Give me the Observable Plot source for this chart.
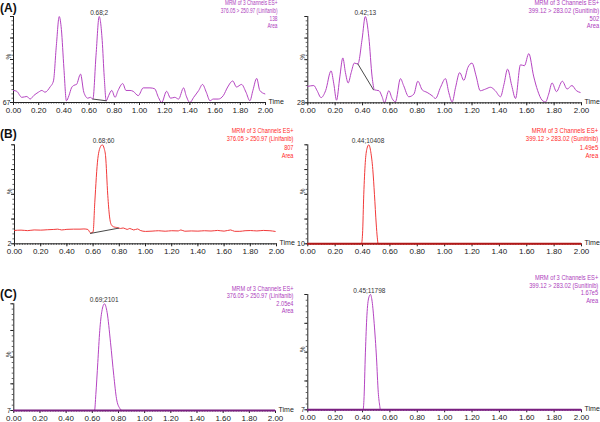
<!DOCTYPE html>
<html><head><meta charset="utf-8">
<script src="https://cdn.jsdelivr.net/npm/d3@7"></script>
<script src="https://cdn.jsdelivr.net/npm/@observablehq/plot@0.6"></script>
<style>
body{margin:0;background:#fff;}
#root{position:relative;width:600px;height:422px;overflow:hidden;font-family:"Liberation Sans",Arial,sans-serif;background:#fff;}
.panel{position:absolute;}
.panel svg{overflow:visible;max-width:none;}
.ann{position:absolute;font-size:7px;text-align:right;white-space:nowrap;transform-origin:right top;}
.tag{position:absolute;font-weight:bold;font-size:12px;line-height:12px;color:#111;}
</style></head><body><div id="root"></div>
<script>
// ---------- data ----------
const majorX = [0, 0.2, 0.4, 0.6, 0.8, 1.0, 1.2, 1.4, 1.6, 1.8, 2.0];
const minorX = d3.range(0, 2.0001, 0.02);
const majorY = [0, 25, 50, 75, 100];
const minorY = d3.range(0, 100.01, 5);

// (A) Linifanib – blank noise
const aLeftTime = [0,0.026,0.066,0.106,0.132,0.16,0.198,0.225,0.25,0.29,0.317,0.34,0.363,0.38,0.40,0.42,0.44,0.46,0.48,0.50,0.532,0.558,0.59,0.61,0.63,0.655,0.68,0.704,0.72,0.736,0.755,0.78,0.806,0.83,0.867,0.893,0.925,0.95,0.99,1.03,1.083,1.12,1.15,1.176,1.215,1.247,1.28,1.31,1.35,1.37,1.40,1.43,1.47,1.50,1.53,1.56,1.585,1.625,1.665,1.70,1.74,1.77,1.81,1.845,1.876,1.90,1.93,1.955,1.995];
const aLeftPct  = [14,13,6,7,4,8,12,14,12,18,25,66,100,85,40,2,8,17,20,21,33,12,5,6,4,55,100,72,30,2,8,14,6,14,22,14,14,13,8,17,17,16,6,0,13,5,6,4,17,8,0,6,14,21,12,2,4,4,8,18,25,18,21,12,2,14,28,14,10];
const aLeftIntT = [0.63, 0.736];
const aLeftIntV = [4, 2];

// (A) Sunitinib – blank noise
const aRightTime = [0,0.044,0.068,0.097,0.13,0.17,0.19,0.21,0.234,0.256,0.275,0.295,0.317,0.34,0.366,0.397,0.42,0.446,0.47,0.487,0.52,0.543,0.56,0.592,0.616,0.64,0.677,0.70,0.738,0.775,0.804,0.836,0.872,0.91,0.933,0.97,1.006,1.03,1.055,1.08,1.11,1.14,1.17,1.2,1.23,1.26,1.30,1.335,1.37,1.408,1.433,1.46,1.49,1.518,1.554,1.583,1.615,1.65,1.68,1.712,1.737,1.76,1.785,1.817,1.86,1.895,1.93,1.963,1.99];
const aRightPct  = [19,20,14,6,14,37,22,3,30,52,35,23,35,46,45,74,100,76,30,15,14,7,0,14,5,1,28,20,7,10,25,15,12,8,5,18,28,12,1,18,35,26,41,46,31,14,16,18,14,7,21,39,20,5,44,43,57,31,14,3,1,10,23,13,25,16,20,14,12];
const aRightIntT = [0.366, 0.48];
const aRightIntV = [45, 15];

// (B) Linifanib
const bLeftTime = [0,0.05,0.1,0.15,0.2,0.25,0.3,0.33,0.36,0.4,0.45,0.5,0.53,0.56,0.58,0.60,0.613,0.636,0.66,0.67,0.685,0.695,0.712,0.725,0.74,0.76,0.78,0.81,0.83,0.86,0.88,0.91,0.94,0.96,1.0,1.05,1.1,1.15,1.2,1.25,1.27,1.3,1.35,1.4,1.45,1.5,1.55,1.6,1.65,1.68,1.72,1.76,1.8,1.85,1.9,1.95,1.99];
const bLeftPct  = [13.5,13.8,13.3,14,13.8,14.2,14.5,14.8,14,14.6,14.8,14.8,15,14.5,11,12,42,86,99,100,96,89,49,28,19,17,16.5,15.5,16,14.5,15.5,14,15,13.5,12.5,12.8,13.2,12.7,13.2,13,14,12.7,13,12.8,13.2,12.9,13.5,12.8,14,12.6,12.6,13.2,13.4,13,13.5,13.2,12.5];
const bLeftIntT = [0.58, 0.795];
const bLeftIntV = [10.5, 15.8];

// (B) Sunitinib
const bRightTime = [0,0.392,0.40,0.409,0.42,0.432,0.446,0.46,0.475,0.487,0.50,0.508,0.514,2.0];
const bRightPct  = [0,0,10,50,82,96,100,93,75,50,20,6,0,0];

// (C) Linifanib
const cLeftTime = [0,0.617,0.627,0.642,0.657,0.673,0.693,0.713,0.739,0.764,0.785,0.81,0.828,2.0];
const cLeftPct  = [0,0,15,45,75,93,100,92,64,33,11,2,0,0];

// (C) Sunitinib
const cRightTime = [0,0.404,0.41,0.421,0.432,0.445,0.458,0.47,0.485,0.502,0.515,0.525,0.531,2.0];
const cRightPct  = [0,0,8,50,82,97,100,94,75,45,15,4,0,0];

const peakTimes  = [0.68, 0.42, 0.68, 0.44, 0.69, 0.45];
const peakLabels = ["0.68;2", "0.42;13", "0.68;60", "0.44;10408", "0.69;2101", "0.45;11798"];
const bottomLabels = ["67", "28", "2", "10", "7", "7"];
const intensities = ["138", "502", "807", "1.49e5", "2.05e4", "1.67e5"];
const header = "MRM of 3 Channels ES+";
const transitions = ["376.05 > 250.97 (Linifanib)", "399.12 > 283.02 (Sunitinib)"];
const panelTags = ["(A)", "(B)", "(C)"];

// ---------- layout / style ----------
const purple = "#b544c2", red = "#f23a3a";
const purpleText = "#ad3cbc", redText = "#ff2a2a";
const axisColor = "#222";
const fmt = d3.format(".2f");

const panels = [
  {left:0,   top:0,   w:300, h:120, m:[16,35,18,13],     time:aLeftTime,  pct:aLeftPct,  intT:aLeftIntT,  intV:aLeftIntV,  color:purple, tc:purpleText, base:axisColor, bw:1, drug:0, ann:{right:323, top:-0.6, lh:7.6, sx:0.68}},
  {left:300, top:0,   w:300, h:120, m:[16,19,17.7,7.3],  time:aRightTime, pct:aRightPct, intT:aRightIntT, intV:aRightIntV, color:purple, tc:purpleText, base:axisColor, bw:1, drug:1, ann:{right:1, top:-0.6, lh:7.6, sx:0.84}},
  {left:0,   top:125, w:300, h:135, m:[19.3,24,16.7,14], time:bLeftTime,  pct:bLeftPct,  intT:bLeftIntT,  intV:bLeftIntV,  color:red, tc:redText, base:axisColor, bw:1, drug:0, ann:{right:307, top:127.4, lh:8.1, sx:0.8}},
  {left:300, top:125, w:300, h:135, m:[19.3,19,16.7,7.3],time:bRightTime, pct:bRightPct, color:red, tc:redText, base:"#b01818", bw:2, drug:1, ann:{right:2, top:127.4, lh:8.1, sx:0.86}},
  {left:0,   top:280, w:300, h:142, m:[23.3,25,12,13.3], time:cLeftTime,  pct:cLeftPct,  color:purple, tc:purpleText, base:"#7a1f80", bw:2, drug:0, ann:{right:307, top:284.5, lh:7.6, sx:0.8}},
  {left:300, top:280, w:300, h:142, m:[14,19,12.7,7.3],  time:cRightTime, pct:cRightPct, color:purple, tc:purpleText, base:"#7a1f80", bw:2, drug:1, ann:{right:2, top:273.8, lh:7.8, sx:0.82}}
];
const tagPos = [[0,2],[0,127.5],[0,288]];

const root = document.getElementById("root");

panels.forEach((p, k) => {
  const data = p.time.map((t, i) => ({t, v: p.pct[i]}));
  const marks = [
    Plot.ruleX([0], {stroke: axisColor, strokeWidth: 1}),
    Plot.axisX({ticks: minorX, tickSize: 1.6, tickFormat: () => "", label: null, strokeWidth: 0.7}),
    Plot.axisX({ticks: majorX, tickSize: 3, tickPadding: 1.5, tickFormat: fmt, label: null, fontSize: 8}),
    Plot.axisY({ticks: minorY, tickSize: 1.6, tickFormat: () => "", label: null, strokeWidth: 0.7}),
    Plot.axisY({ticks: majorY, tickSize: 3, tickFormat: () => "", label: null}),
    Plot.line(data, {x: "t", y: "v", stroke: p.color, strokeWidth: 1, curve: "monotone-x"})
  ];
  if (p.intT) {
    const intData = p.intT.map((t, i) => ({t, v: p.intV[i]}));
    marks.push(Plot.line(intData, {x: "t", y: "v", stroke: "#333", strokeWidth: 0.9}));
  }
  marks.push(
    Plot.ruleY([0], {stroke: p.base, strokeWidth: p.bw}),
    Plot.text([{t: peakTimes[k], v: 100, s: peakLabels[k]}], {x: "t", y: "v", text: "s", lineAnchor: "bottom", dy: -2, fontSize: 6.5, fill: "#333"}),
    Plot.text([bottomLabels[k]], {frameAnchor: "bottom-left", textAnchor: "end", lineAnchor: "middle", dx: -3, fontSize: 7, fill: "#222"}),
    Plot.text(["%"], {frameAnchor: "left", rotate: -90, dx: -5, fontSize: 6.5, fill: "#222"}),
    Plot.text(["Time"], {frameAnchor: "bottom-right", textAnchor: "start", lineAnchor: "middle", dx: 3, dy: -1, fontSize: 7, fill: "#222"})
  );
  const svg = Plot.plot({
    width: p.w, height: p.h,
    marginTop: p.m[0], marginRight: p.m[1], marginBottom: p.m[2], marginLeft: p.m[3],
    x: {domain: [0, 2], axis: null},
    y: {domain: [0, 100], axis: null},
    style: {fontFamily: "'Liberation Sans', Arial, sans-serif", fontSize: "8px", color: axisColor, background: "none", overflow: "visible", maxWidth: "none"},
    marks
  });
  const div = document.createElement("div");
  div.className = "panel";
  div.style.left = p.left + "px";
  div.style.top = p.top + "px";
  div.style.width = p.w + "px";
  div.style.height = p.h + "px";
  div.appendChild(svg);
  root.appendChild(div);

  const ann = document.createElement("div");
  ann.className = "ann";
  ann.style.right = p.ann.right + "px";
  ann.style.top = p.ann.top + "px";
  ann.style.lineHeight = p.ann.lh + "px";
  ann.style.color = p.tc;
  ann.style.transform = `scaleX(${p.ann.sx})`;
  [header, transitions[p.drug], intensities[k], "Area"].forEach(s => {
    const line = document.createElement("div");
    line.textContent = s;
    ann.appendChild(line);
  });
  root.appendChild(ann);
});

panelTags.forEach((s, i) => {
  const t = document.createElement("div");
  t.className = "tag";
  t.style.left = tagPos[i][0] + "px";
  t.style.top = tagPos[i][1] + "px";
  t.textContent = s;
  root.appendChild(t);
});
</script>
</body></html>
